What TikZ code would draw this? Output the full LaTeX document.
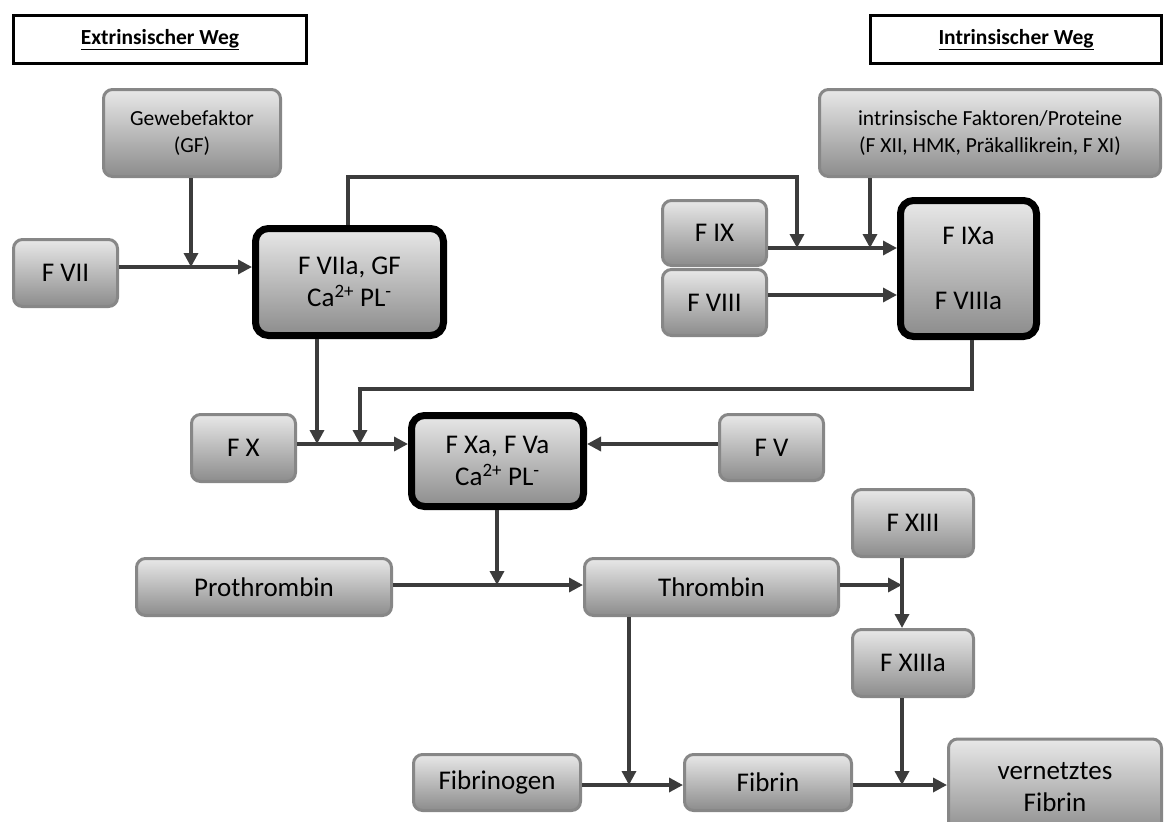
\documentclass[tikz,border=0pt]{standalone}
\usepackage{fontspec}
\setmainfont{Carlito}
\usetikzlibrary{arrows.meta}
\definecolor{boxoben}{RGB}{232,232,232}
\definecolor{boxunten}{RGB}{140,140,140}
\definecolor{randgrau}{RGB}{135,135,135}
\definecolor{pfeilgrau}{RGB}{60,60,60}
\begin{document}
\begin{tikzpicture}[x=1pt, y=-1pt,
	box/.style={draw=randgrau, line width=3pt, rounded corners=9pt, top color=boxoben, bottom color=boxunten, align=center, inner sep=0pt, font=\fontsize{27}{32}\selectfont},
	kbox/.style={box, draw=black, line width=7pt, rounded corners=13pt},
	kleinbox/.style={box, font=\fontsize{21.5}{26.5}\selectfont},
	titel/.style={draw=black, line width=3pt, inner sep=0pt, font=\fontsize{21.5}{26}\selectfont\bfseries},
	pfeil/.style={draw=pfeilgrau, line width=3.3pt, -{Triangle[length=14pt, width=14pt]}}]
	\useasboundingbox (0,0) rectangle (1165,822);
	%Titel
	\node[titel, minimum width=293pt, minimum height=48pt] (ext) at (160,39.5) {\underline{Extrinsischer Weg}};
	\node[titel, minimum width=291pt, minimum height=48pt] (int) at (1016,39.5) {\underline{Intrinsischer Weg}};
	%extrinsisch
	\node[kleinbox, minimum width=177pt, minimum height=87pt] (GF) at (192,133) {Gewebefaktor\\(GF)};
	\node[box, minimum width=104pt, minimum height=67pt] (FVII) at (65.5,273) {F VII};
	\node[kbox, minimum width=188pt, minimum height=107pt] (FVIIa) at (349.5,282) {F VIIa, GF\\Ca\textsuperscript{2+} PL\textsuperscript{-}};
	%intrinsisch
	\node[kleinbox, minimum width=341pt, minimum height=87pt] (intr) at (990,133) {intrinsische Faktoren/Proteine\\(F XII, HMK, Präkallikrein, F XI)};
	\node[box, minimum width=104pt, minimum height=65pt] (FIX) at (714.5,233) {F IX};
	\node[box, minimum width=104pt, minimum height=66pt] (FVIII) at (714.5,302.5) {F VIII};
	\node[kbox, minimum width=136pt, minimum height=136pt] (FIXa) at (968.5,268.5) {F IXa\\[33pt]F VIIIa};
	%gemeinsam
	\node[box, minimum width=104pt, minimum height=67pt] (FX) at (243.5,448) {F X};
	\node[kbox, minimum width=172pt, minimum height=91pt] (FXa) at (497.5,461) {F Xa, F Va\\Ca\textsuperscript{2+} PL\textsuperscript{-}};
	\node[box, minimum width=104pt, minimum height=66pt] (FV) at (771.5,447.5) {F V};
	\node[box, minimum width=255pt, minimum height=57pt] (Prothrombin) at (264,587) {Prothrombin};
	\node[box, minimum width=254pt, minimum height=57pt] (Thrombin) at (711.5,587) {Thrombin};
	\node[box, minimum width=121pt, minimum height=67pt] (FXIII) at (913,523) {F XIII};
	\node[box, minimum width=121pt, minimum height=67pt] (FXIIIa) at (913,663) {F XIIIa};
	\node[box, minimum width=167pt, minimum height=56pt] (Fibrinogen) at (497,782.5) {Fibrinogen};
	\node[box, minimum width=167pt, minimum height=56pt] (Fibrin) at (768,782.5) {Fibrin};
	\node[box, minimum width=213pt, minimum height=96pt] (vFibrin) at (1055,787) {vernetztes\\Fibrin};
	%Knotenpunkte
	\path (191,267) coordinate (j1);
	\path (348,177) coordinate (k1);
	\path (797,248) coordinate (j2);
	\path (870,248) coordinate (j3);
	\path (317,444) coordinate (j4);
	\path (360,389) coordinate (k2);
	\path (360,444) coordinate (j5);
	\path (497,585) coordinate (j6);
	\path (902,585) coordinate (j7);
	\path (629,785) coordinate (j8);
	\path (902,785) coordinate (j9);
	%Pfeile extrinsisch
	\draw[pfeil] (GF.south -| j1) -- (j1);
	\draw[pfeil] (FVII.east |- j1) -- (FVIIa.west |- j1);
	\draw[pfeil] (FVIIa.north -| k1) -- (k1) -| (j2);
	%Pfeile intrinsisch
	\draw[pfeil] (intr.south -| j3) -- (j3);
	\draw[pfeil] (FIX.east |- j3) -- (FIXa.west |- j3);
	\draw[pfeil] (FVIII.east |- 0,295) -- (FIXa.west |- 0,295);
	\draw[pfeil] (FIXa.south -| 972,0) |- (k2) -- (j5);
	%Pfeile gemeinsam
	\draw[pfeil] (FVIIa.south -| j4) -- (j4);
	\draw[pfeil] (FX.east |- j4) -- (FXa.west |- j4);
	\draw[pfeil] (FV.west |- j4) -- (FXa.east |- j4);
	\draw[pfeil] (FXa.south -| j6) -- (j6);
	\draw[pfeil] (Prothrombin.east |- j6) -- (Thrombin.west |- j6);
	\draw[pfeil] (Thrombin.east |- j7) -- (j7);
	\draw[pfeil] (FXIII.south -| j7) -- (FXIIIa.north -| j7);
	\draw[pfeil] (Thrombin.south -| j8) -- (j8);
	\draw[pfeil] (Fibrinogen.east |- j8) -- (Fibrin.west |- j8);
	\draw[pfeil] (FXIIIa.south -| j9) -- (j9);
	\draw[pfeil] (Fibrin.east |- j9) -- (vFibrin.west |- j9);
\end{tikzpicture}
\end{document}
